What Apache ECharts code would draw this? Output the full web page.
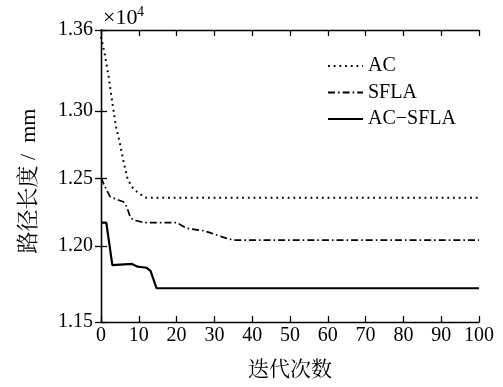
<!DOCTYPE html>
<html>
<head>
<meta charset="utf-8">
<script src="https://cdn.jsdelivr.net/npm/echarts@6/dist/echarts.min.js"></script>
<style>
  html, body { margin: 0; padding: 0; background: #fff; }
  #chart { width: 503px; height: 387px; }
</style>
</head>
<body>
<div id="chart"></div>
<script>
// iteration / path length (x10^4 mm)
const acData = [
  [0, 1.355], [1, 1.342], [2, 1.326], [3, 1.306], [4, 1.288], [5, 1.276],
  [6, 1.262], [7, 1.250], [8, 1.2445], [9, 1.241], [10, 1.2395], [11, 1.237],
  [12, 1.2358], [100, 1.2358]
]
const sflaData = [
  [0, 1.2504], [1.5, 1.2415], [2.4, 1.2365], [4.6, 1.2341], [5.9, 1.2328],
  [6.8, 1.2291], [7.7, 1.2217], [8.5, 1.2193], [11.6, 1.2173], [20, 1.2173],
  [22.7, 1.2131], [27.1, 1.2113], [28.8, 1.2099], [32.4, 1.2064], [35, 1.2044],
  [100, 1.2044]
]
const acsflaData = [
  [0, 1.2173], [1.4, 1.2173], [3, 1.1859], [8.2, 1.1867], [9.7, 1.1847],
  [12, 1.1839], [13.1, 1.1815], [14.7, 1.1687], [100, 1.1687]
]
const seriesNames = ["AC", "SFLA", "AC\u2212SFLA"]

const yTickValues = [1.1437, 1.20, 1.25, 1.30, 1.36]
const yTickLabels = ["1.15", "1.20", "1.25", "1.30", "1.36"]
const yMin = 1.1437
const yMax = 1.36

const serif = "'Liberation Serif', 'Times New Roman', serif"
const cjk = "'Liberation Serif', 'Noto Serif CJK SC', 'Noto Sans CJK SC', serif"

const chart = echarts.init(document.getElementById("chart"), null, { renderer: "canvas" })

const axisLine = { show: true, lineStyle: { color: "#000", width: 1.3 } }
const tick = { show: true, inside: true, length: 6, lineStyle: { color: "#000", width: 1.3 } }

chart.setOption({
  animation: false,
  backgroundColor: "#fff",
  grid: { left: 101, right: 24, top: 30, bottom: 65, containLabel: false },
  legend: {
    orient: "vertical",
    left: 327,
    top: 56,
    padding: 0,
    itemWidth: 35,
    itemHeight: 14,
    itemGap: 6.5,
    itemStyle: { opacity: 0 },
    textStyle: { fontFamily: serif, fontSize: 20, lineHeight: 20, color: "#000" },
    data: seriesNames
  },
  graphic: [
    {
      type: "text", left: 103, top: 7,
      style: { text: "×10", fontFamily: serif, fontSize: 22, fill: "#000" }
    },
    {
      type: "text", left: 137, top: 5,
      style: { text: "4", fontFamily: serif, fontSize: 14, fill: "#000" }
    }
  ],
  xAxis: [
    {
      type: "value",
      min: 0, max: 100, interval: 10,
      name: "迭代次数",
      nameLocation: "middle",
      nameGap: 38,
      nameTextStyle: { fontFamily: cjk, fontSize: 21, color: "#000" },
      axisLine, axisTick: tick,
      axisLabel: { margin: 4, fontFamily: serif, fontSize: 20, color: "#000" },
      splitLine: { show: false }
    },
    {
      type: "value", position: "top",
      min: 0, max: 100, interval: 10,
      axisLine, axisTick: tick,
      axisLabel: { show: false },
      splitLine: { show: false }
    }
  ],
  yAxis: [
    {
      type: "value",
      min: yMin, max: yMax,
      name: "路径长度 /  mm",
      nameLocation: "middle",
      nameGap: 61,
      nameRotate: 90,
      nameTextStyle: { fontFamily: cjk, fontSize: 22, color: "#000", padding: [0, 10, 0, 0] },
      axisLine,
      axisTick: Object.assign({}, tick, { customValues: yTickValues }),
      axisLabel: {
        margin: 8, fontFamily: serif, fontSize: 20, color: "#000",
        customValues: yTickValues,
        formatter: (v) => {
          const i = yTickValues.findIndex((t) => Math.abs(t - v) < 1e-6)
          return i >= 0 ? yTickLabels[i] : ""
        }
      },
      splitLine: { show: false }
    },
    {
      type: "value", position: "right",
      min: yMin, max: yMax,
      axisLine,
      axisTick: Object.assign({}, tick, { customValues: yTickValues }),
      axisLabel: { show: false },
      splitLine: { show: false }
    }
  ],
  series: [
    {
      name: seriesNames[0], type: "line", data: acData, symbol: "none",
      lineStyle: { color: "#000", width: 2, type: [1.8, 3.9], cap: "butt" },
      itemStyle: { color: "#000" }
    },
    {
      name: seriesNames[1], type: "line", data: sflaData, symbol: "none",
      lineStyle: { color: "#000", width: 1.7, type: [7, 3, 1.6, 3], cap: "butt" },
      itemStyle: { color: "#000" }
    },
    {
      name: seriesNames[2], type: "line", data: acsflaData, symbol: "none",
      lineStyle: { color: "#000", width: 2.2 },
      itemStyle: { color: "#000" }
    }
  ]
})
</script>
</body>
</html>
